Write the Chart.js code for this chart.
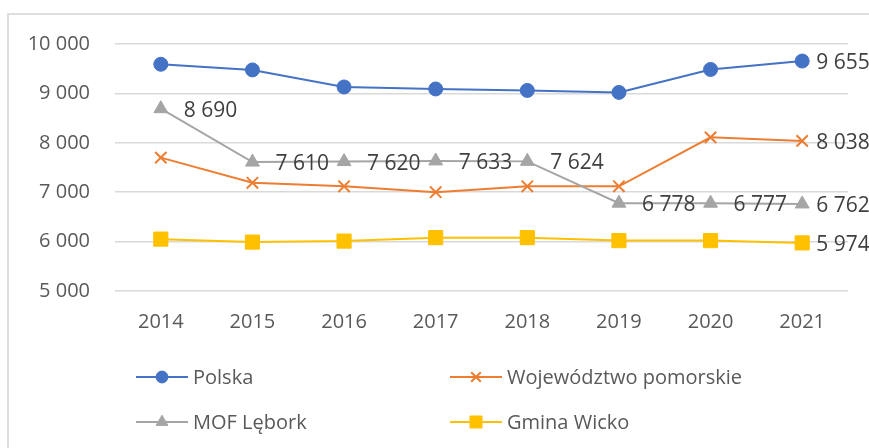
<!DOCTYPE html>
<html>
<head>
<meta charset="utf-8">
<script src="https://cdn.jsdelivr.net/npm/chart.js@4/dist/chart.umd.min.js"></script>
<style>
  html, body { margin: 0; padding: 0; background: #fff; }
  #wrap { position: relative; width: 869px; height: 448px; overflow: hidden; }
  #frame { position: absolute; left: 7px; top: 13px; width: 900px; height: 500px;
           border: 2px solid #dedede; box-sizing: border-box; }
  #c { position: absolute; left: 0; top: 0; }
</style>
</head>
<body>
<div id="wrap">
  <div id="frame"></div>
  <canvas id="c" width="869" height="448"></canvas>
</div>
<script>
// categories + series
var years = ['2014', '2015', '2016', '2017', '2018', '2019', '2020', '2021'];
var polska = [9590, 9475, 9130, 9090, 9060, 9020, 9485, 9655];
var pomorskie = [7700, 7190, 7120, 7000, 7120, 7120, 8110, 8038];
var mofLebork = [8690, 7610, 7620, 7633, 7624, 6778, 6777, 6762];
var gminaWicko = [6050, 5990, 6010, 6080, 6080, 6020, 6020, 5974];
var yTicks = [5000, 6000, 7000, 8000, 9000, 10000];

var FONT = '"Open Sans", "Liberation Sans", sans-serif';

function fmt(n) {
    return String(n).replace(/\B(?=(\d{3})+(?!\d))/g, ' ');
}

// which points get a value label, and how far right of the marker it sits
var labelled = {
    0: { idx: [7], gap: [14] },
    1: { idx: [7], gap: [14] },
    2: { idx: [0, 1, 2, 3, 4, 5, 6, 7], gap: [23, 23, 23, 23, 23, 23, 23, 14] },
    3: { idx: [7], gap: [14] }
};

var dataLabels = {
    id: 'dataLabels',
    afterDatasetsDraw: function (chart) {
        var ctx = chart.ctx;
        ctx.save();
        ctx.font = '21px ' + FONT;
        ctx.fillStyle = '#404040';
        ctx.textAlign = 'left';
        ctx.textBaseline = 'middle';
        Object.keys(labelled).forEach(function (k) {
            var ds = chart.data.datasets[k];
            var meta = chart.getDatasetMeta(+k);
            var cfg = labelled[k];
            cfg.idx.forEach(function (i, n) {
                var p = meta.data[i];
                ctx.fillText(fmt(ds.data[i]), p.x + cfg.gap[n], p.y + 2);
            });
        });
        ctx.restore();
    }
};

// legend slots: two columns, two rows (line start x, centre y)
var legendSlots = [[136, 377], [450, 377], [136, 422], [450, 422]];

var lineLegend = {
    id: 'lineLegend',
    afterDraw: function (chart) {
        var ctx = chart.ctx;
        ctx.save();
        chart.data.datasets.forEach(function (ds, i) {
            var x = legendSlots[i][0], y = legendSlots[i][1];
            ctx.strokeStyle = ds.borderColor;
            ctx.lineWidth = 2;
            ctx.beginPath();
            ctx.moveTo(x, y);
            ctx.lineTo(x + 52, y);
            ctx.stroke();
            ctx.fillStyle = ds.pointBackgroundColor;
            ctx.strokeStyle = ds.pointBorderColor;
            ctx.lineWidth = ds.pointBorderWidth || 1;
            Chart.helpers.drawPoint(ctx, {
                pointStyle: ds.pointStyle,
                radius: ds.pointRadius * 0.85,
                rotation: 0,
                borderWidth: ds.pointBorderWidth || 1
            }, x + 26, y);
            ctx.fillStyle = '#595959';
            ctx.font = '20px ' + FONT;
            ctx.textAlign = 'left';
            ctx.textBaseline = 'middle';
            ctx.fillText(ds.label, x + 57, y + 1);
        });
        ctx.restore();
    }
};

function series(label, data, color, style, radius, order) {
    return {
        label: label,
        data: data,
        borderColor: color,
        backgroundColor: color,
        borderWidth: 2,
        pointStyle: style,
        pointRadius: radius,
        pointHoverRadius: radius,
        pointBackgroundColor: color,
        pointBorderColor: color,
        pointBorderWidth: style === 'crossRot' ? 2 : 1,
        tension: 0,
        fill: false,
        order: order
    };
}

new Chart(document.getElementById('c'), {
    type: 'line',
    data: {
        labels: years,
        datasets: [
            series('Polska', polska, '#4472C4', 'circle', 7, 4),
            series('Województwo pomorskie', pomorskie, '#ED7D31', 'crossRot', 8, 3),
            series('MOF Lębork', mofLebork, '#A5A5A5', 'triangle', 8, 2),
            series('Gmina Wicko', gminaWicko, '#FFC000', 'rect', 10, 1)
        ]
    },
    options: {
        responsive: false,
        animation: false,
        layout: { padding: { top: 44, right: 21, bottom: 107, left: 0 } },
        plugins: {
            legend: { display: false },
            tooltip: { enabled: false }
        },
        scales: {
            y: {
                min: yTicks[0],
                max: yTicks[yTicks.length - 1],
                afterBuildTicks: function (scale) {
                    scale.ticks = yTicks.map(function (v) { return { value: v }; });
                },
                afterFit: function (scale) { scale.width = 115; },
                ticks: {
                    padding: 25,
                    color: '#595959',
                    font: { family: FONT, size: 20 },
                    callback: function (v) { return fmt(v); }
                },
                grid: { color: '#d9d9d9', lineWidth: 1.5, drawTicks: false },
                border: { display: false }
            },
            x: {
                offset: true,
                afterFit: function (scale) { scale.height = 50; },
                ticks: {
                    padding: 19,
                    color: '#595959',
                    font: { family: FONT, size: 20 },
                    maxRotation: 0
                },
                grid: { display: false, drawTicks: false },
                border: { display: false }
            }
        }
    },
    plugins: [dataLabels, lineLegend]
});
</script>
</body>
</html>
